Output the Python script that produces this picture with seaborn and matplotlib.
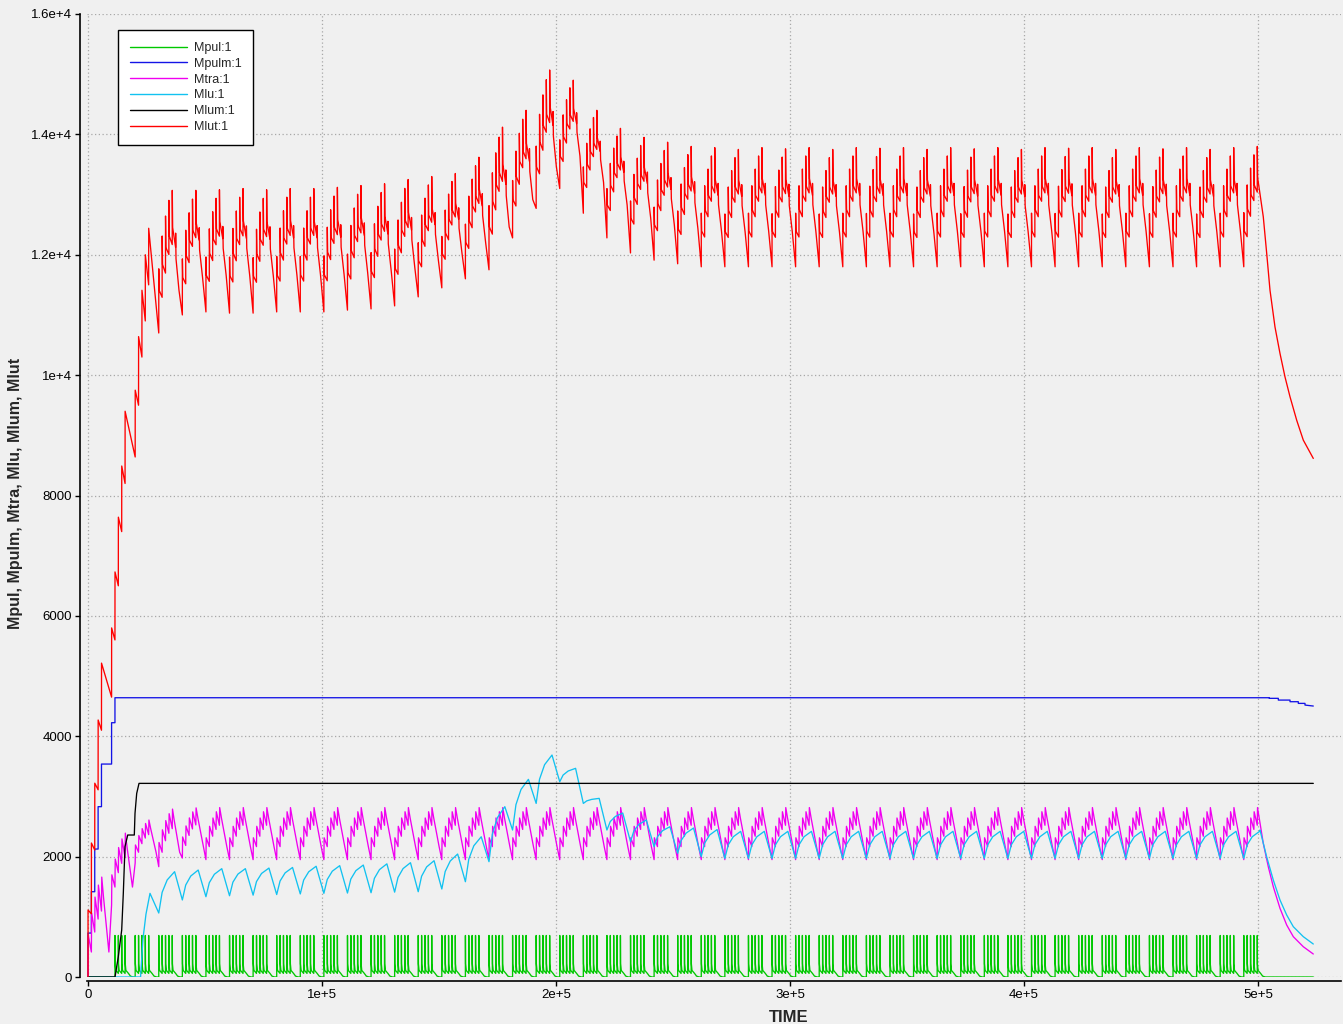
import numpy as np
import pandas as pd
import matplotlib
matplotlib.use("Agg")
import matplotlib.pyplot as plt
import seaborn as sns

WEEK = 10080.0
DAY = 1440.0

series_names = ["Mpul:1", "Mpulm:1", "Mtra:1", "Mlu:1", "Mlum:1", "Mlut:1"]
series_colors = ["#00c800", "#1414e6", "#f000f0", "#12c2f0", "#000000", "#ff0000"]

x_ticks = [0, 100000, 200000, 300000, 400000, 500000]
x_tick_labels = ["0", "1e+5", "2e+5", "3e+5", "4e+5", "5e+5"]
y_ticks = [0, 2000, 4000, 6000, 8000, 10000, 12000, 14000, 16000]
y_tick_labels = ["0", "2000", "4000", "6000", "8000", "1e+4", "1.2e+4", "1.4e+4", "1.6e+4"]

# ---------------- Mlut (red) ----------------
# loading phase: dose day, level just before dose, spike top
mlut_load_day = [0, 1, 2, 3, 4, 7, 8, 9, 10, 11, 14, 15, 16, 17, 18]
mlut_load_before = [0, 1050, 2110, 3110, 4100, 4650, 5600, 6500, 7400, 8200, 8640, 9500, 10300, 10900, 11500]
mlut_load_top = [1113, 2226, 3220, 4270, 5215, 5800, 6730, 7640, 8490, 9400, 9750, 10640, 11410, 12000, 12440]
# weekly trough (week start) and highest spike, weeks 3..49
mlut_trough = [10700, 11000, 11050, 11030, 11030, 11050, 11050, 11050, 11080, 11100, 11150,
               11300, 11450, 11600, 11750, 12280, 12770, 13100, 12690, 12280, 12030, 11910, 11850,
               11800, 11800, 11800, 11800, 11800, 11800, 11800, 11800, 11800, 11800, 11800, 11800,
               11800, 11800, 11800, 11800, 11800, 11800, 11800, 11800, 11800, 11800, 11800, 11800]
mlut_peak = [13070, 13070, 13080, 13100, 13080, 13100, 13100, 13120, 13150, 13180, 13250,
             13300, 13350, 13620, 14120, 14400, 15070, 14900, 14400, 14100, 13950, 13870, 13800,
             13780, 13750, 13780, 13760, 13780, 13750, 13780, 13770, 13780, 13750, 13780, 13760,
             13780, 13750, 13780, 13770, 13780, 13750, 13780, 13760, 13780, 13750, 13780, 13800]
# shape of one week (day in week, fraction between trough and peak)
mlut_shape_day = [0.00, 0.01, 0.12, 1.00, 1.01, 1.12, 2.00, 2.01, 2.12, 3.00, 3.01, 3.12,
                  4.00, 4.01, 4.12, 5.00, 5.01, 5.12, 6.00]
mlut_shape_f = [0.00, 0.45, 0.30, 0.25, 0.68, 0.48, 0.42, 0.82, 0.60, 0.55, 0.93, 0.68,
                0.62, 1.00, 0.74, 0.60, 0.70, 0.52, 0.30]
# washout after the last dose
mlut_tail_t = [502260, 503700, 505130, 507260, 509400, 511540, 513680, 516540, 519360, 523630]
mlut_tail_v = [12630, 12030, 11410, 10800, 10360, 9970, 9640, 9250, 8920, 8616]

# ---------------- Mtra (magenta) ----------------
mtra_trough = [0, 1196, 1894, 1833, 1977] + [1950] * 45        # weeks 0..49
mtra_peak = [1660, 2390, 2608, 2790, 2810] + [2815] * 45
mtra_shape_day = [0.00, 0.08, 1.00, 1.08, 2.00, 2.08, 3.00, 3.08, 4.00, 4.08, 4.60, 5.40, 6.20]
mtra_shape_f = [0.00, 0.42, 0.25, 0.64, 0.45, 0.80, 0.58, 0.92, 0.66, 1.00, 0.80, 0.52, 0.25]
mtra_tail_t = [502260, 504400, 506540, 509400, 512260, 515090, 519360, 523630]
mtra_tail_v = [2220, 1832, 1500, 1141, 864, 670, 503, 382]

# ---------------- Mlu (cyan) ----------------
mlu_trough = [0, 1063, 1280, 1334, 1350, 1360, 1370, 1380, 1390, 1395, 1400, 1410, 1417,
              1462, 1583, 1916, 2442, 2884, 3244, 2884, 2442, 2248, 2165, 2055, 2000] + [1970] * 23   # weeks 2..49
mlu_peak = [1390, 1750, 1777, 1800, 1800, 1810, 1820, 1840, 1850, 1860, 1880, 1899, 1932,
            2043, 2330, 2830, 3284, 3688, 3467, 2968, 2724, 2608, 2497, 2475, 2450] + [2420] * 23
mlu_shape_day = [1.0, 2.5, 4.7]
mlu_shape_f = [0.50, 0.80, 1.00]
mlu_start_day = 15.6
mlu_first_day = [16.3, 17.2, 18.4]
mlu_first_f = [0.45, 0.75, 1.0]
mlu_tail_t = [500850, 503700, 506540, 509400, 512260, 515090, 519360, 523630]
mlu_tail_v = [2442, 1998, 1611, 1279, 1030, 836, 670, 548]

# ---------------- Mpulm (blue) ----------------
mpulm_t = [0, 0, 1440, 1440, 2880, 2880, 4320, 4320, 5760, 5760, 10080, 10080, 11520, 11520,
           504830, 504840, 508680, 508690, 513680, 513690, 517220, 517230, 520080, 520090, 523630]
mpulm_v = [0, 730, 730, 1417, 1417, 2126, 2126, 2830, 2830, 3538, 3538, 4225, 4225, 4640,
           4640, 4630, 4630, 4601, 4601, 4574, 4574, 4546, 4546, 4518, 4502]

# ---------------- Mlum (black) ----------------
mlum_t = [0, 11540, 12950, 14400, 15090, 15810, 16970, 19790, 20090, 20810, 21800, 523630]
mlum_v = [0, 0, 337, 781, 1390, 2165, 2359, 2359, 2720, 3050, 3217, 3217]

# ---------------- Mpul (green) ----------------
mpul_first_days = [8, 9, 10, 11]       # doses in week 1
# one dosing day: minutes after dose, value
mpul_day_t = [10, 80, 350]
mpul_day_v = [690, 220, 110]
mpul_pre = 60
mpul_tail_t = [1440, 2300, 3400]
mpul_tail_v = [60, 15, 0]


def shaped_week(pts, t0, T, P, Tn, days, fracs):
    R = P - T
    for dd, f in zip(days, fracs):
        pts.append((t0 + dd * DAY, T + f * R))
    if Tn is not None:
        pts.append((t0 + WEEK, Tn))


# build red
red = [(0.0, 0.0)]
for i, d in enumerate(mlut_load_day):
    t = d * DAY
    red.append((t, mlut_load_before[i]))
    red.append((t + 20, mlut_load_top[i]))
for j, k in enumerate(range(3, 50)):
    if k < 49:
        shaped_week(red, k * WEEK, mlut_trough[j], mlut_peak[j], mlut_trough[j + 1],
                    mlut_shape_day, mlut_shape_f)
    else:
        shaped_week(red, k * WEEK, mlut_trough[j], mlut_peak[j], None,
                    mlut_shape_day[:15], mlut_shape_f[:15])
red += list(zip(mlut_tail_t, mlut_tail_v))

# magenta
mag = [(0.0, 0.0)]
for k in range(50):
    if k < 49:
        shaped_week(mag, k * WEEK, mtra_trough[k], mtra_peak[k], mtra_trough[k + 1],
                    mtra_shape_day, mtra_shape_f)
    else:
        shaped_week(mag, k * WEEK, mtra_trough[k], mtra_peak[k], None,
                    mtra_shape_day[:10], mtra_shape_f[:10])
mag += list(zip(mtra_tail_t, mtra_tail_v))

# cyan
cyan = [(0.0, 0.0), (mlu_start_day * DAY, 0.0)]
for j, k in enumerate(range(2, 50)):
    t0 = k * WEEK
    T, P = mlu_trough[j], mlu_peak[j]
    if k == 2:
        for dd, f in zip(mlu_first_day, mlu_first_f):
            cyan.append((dd * DAY, T + f * (P - T)))
    else:
        cyan.append((t0, T))
        for dd, f in zip(mlu_shape_day, mlu_shape_f):
            cyan.append((t0 + dd * DAY, T + f * (P - T)))
    if k < 49:
        cyan.append(((k + 1) * WEEK, mlu_trough[j + 1]))
cyan += list(zip(mlu_tail_t, mlu_tail_v))

# green
green = [(0.0, 0.0)]
dose_groups = [[d * DAY for d in mpul_first_days]]
for k in range(2, 50):
    dose_groups.append([k * WEEK + d * DAY for d in range(5)])
for grp in dose_groups:
    green.append((grp[0], 0.0))
    for i, td in enumerate(grp):
        for dt, v in zip(mpul_day_t, mpul_day_v):
            green.append((td + dt, v))
        if i < len(grp) - 1:
            green.append((grp[i + 1], mpul_pre))
    for dt, v in zip(mpul_tail_t, mpul_tail_v):
        green.append((grp[-1] + dt, v))
green.append((523630, 0.0))

blue = list(zip(mpulm_t, mpulm_v))
black = list(zip(mlum_t, mlum_v))

frames = []
for name, pts in zip(series_names, [green, blue, mag, cyan, black, red]):
    arr = np.array(pts, dtype=float)
    frames.append(pd.DataFrame({"TIME": arr[:, 0], "value": arr[:, 1], "series": name}))
df = pd.concat(frames, ignore_index=True)

sns.set_theme(style="white")
plt.rcParams["font.family"] = ["Liberation Sans", "DejaVu Sans"]

BG = "#f0f0f0"
fig = plt.figure(figsize=(13.43, 10.24), dpi=100, facecolor=BG)
ax = fig.add_axes([87 / 1343, 1 - 977 / 1024, (1341 - 87) / 1343, (977 - 14) / 1024])
ax.set_facecolor(BG)

sns.lineplot(data=df, x="TIME", y="value", hue="series", hue_order=series_names,
             palette=series_colors, estimator=None, sort=False, units="series",
             linewidth=0.95, ax=ax, legend=True)

px_t = 1e5 / 234.0
ax.set_xlim(-1 * px_t, (1341 - 88) * px_t)
ax.set_ylim(0, 16000)
ax.set_xticks(x_ticks)
ax.set_xticklabels(x_tick_labels)
ax.set_yticks(y_ticks)
ax.set_yticklabels(y_tick_labels)
ax.tick_params(axis="both", direction="out", length=3.5, width=1, color="black",
               labelsize=9.5, labelcolor="black", pad=2.5, left=True, bottom=True)
ax.grid(True, color="#a8a8a8", linestyle=(0, (1, 2)), linewidth=0.9)
for s in ["top", "right"]:
    ax.spines[s].set_visible(False)
ax.spines["left"].set_position(("outward", 5))
ax.spines["bottom"].set_position(("outward", 3))
for s in ["left", "bottom"]:
    ax.spines[s].set_color("black")
    ax.spines[s].set_linewidth(1.2)

ax.set_xlabel("TIME", fontsize=12, fontweight="bold")
ax.xaxis.label.set_va("center")
ax.xaxis.set_label_coords((789 - 87) / 1254, (977 - 1017) / 963)
ax.set_ylabel("Mpul, Mpulm, Mtra, Mlu, Mlum, Mlut", fontsize=11.5, fontweight="bold")
ax.yaxis.label.set_va("center")
ax.yaxis.set_label_coords((16 - 87) / 1254, (977 - 493) / 963)

handles, labels = ax.get_legend_handles_labels()
leg = ax.legend(handles, labels, loc="upper left", bbox_to_anchor=(31 / 1254, 1 - 16 / 963),
                borderaxespad=0, frameon=True, fancybox=False, edgecolor="black",
                facecolor="white", framealpha=1, fontsize=9, handlelength=4.6,
                handletextpad=0.5, labelspacing=0.31, borderpad=0.95)
leg.get_frame().set_linewidth(1.0)
for h in leg.get_lines():
    h.set_linewidth(1.0)

fig.savefig("out.png", dpi=100, facecolor=BG)
